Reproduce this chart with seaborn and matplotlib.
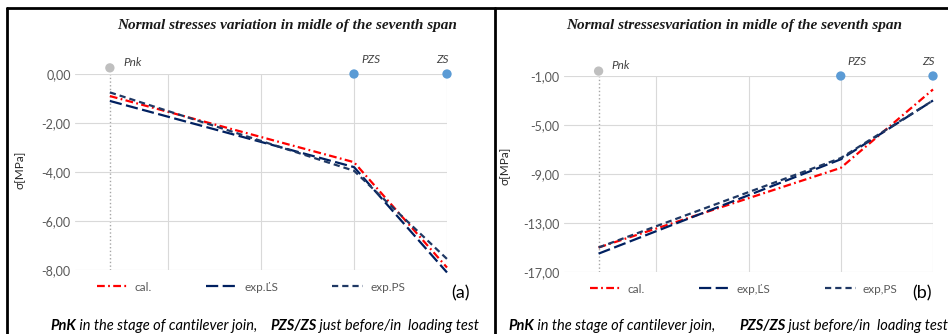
import pandas as pd
import seaborn as sns
import matplotlib.pyplot as plt
from matplotlib.lines import Line2D
from matplotlib.ticker import FuncFormatter

# stages along the span (x position on the chart axis)
stages = ['Pnk', 'PZS', 'ZS']
stage_x = [0.375, 3.0, 4.0]

# (a) values [MPa]
cal_a = [-0.9, -3.6, -7.9]
ls_a = [-1.1, -3.8, -8.1]
ps_a = [-0.75, -3.95, -7.55]
marker_a = [0.25, 0.0, 0.0]
names_a = ['cal.', 'exp.ĽS', 'exp.PS']
yticks_a = [0, -2, -4, -6, -8]

# (b) values [MPa]
cal_b = [-15.0, -8.5, -2.1]
ls_b = [-15.5, -7.8, -3.0]
ps_b = [-15.0, -7.7, -3.0]
marker_b = [-0.6, -1.0, -1.0]
names_b = ['cal.', 'exp,ĽS', 'exp,PS']
yticks_b = [-1, -5, -9, -13, -17]

title_a = 'Normal stresses variation in midle of the seventh span'
title_b = 'Normal stressesvariation in midle of the seventh span'

sns.set_theme(style='white')
plt.rcParams['font.family'] = ['Lato', 'DejaVu Sans']

colors = ['#FF0000', '#002060', '#1F3864']
dashes = [(3.5, 1.5, 0.8, 1.5), (5.5, 2.0), (2.8, 1.8)]
marker_colors = ['#BFBFBF', '#5B9BD5', '#5B9BD5']
tick_col = '#595959'

fig = plt.figure(figsize=(9.48, 3.34), dpi=100)
ax_a = fig.add_axes([75 / 948, 1 - 270 / 334, 372 / 948, 196 / 334])
ax_b = fig.add_axes([564 / 948, 1 - 272 / 334, 369 / 948, 196 / 334])


def draw_panel(ax, cal, ls, ps, marks, names, yticks, leg_x):
    df = pd.DataFrame({
        'x': stage_x * 3,
        'y': cal + ls + ps,
        'series': [n for n in names for _ in stage_x],
    })
    sns.lineplot(data=df, x='x', y='y', hue='series', style='series',
                 palette=dict(zip(names, colors)), dashes=dict(zip(names, dashes)),
                 estimator=None, sort=False, lw=1.6, ax=ax, legend=False, clip_on=False)
    ax.axvline(stage_x[0], color='#A6A6A6', ls=':', lw=1.0, zorder=0)
    sns.scatterplot(x=stage_x, y=marks, hue=stages, palette=dict(zip(stages, marker_colors)),
                    s=45, edgecolor='none', ax=ax, legend=False, clip_on=False, zorder=5)

    offsets = [(9.5, 4), (5, 10.5), (-3, 10.5)]
    aligns = ['left', 'left', 'center']
    for name, x, y, off, ha in zip(stages, stage_x, marks, offsets, aligns):
        ax.annotate(name, (x, y), xytext=off, textcoords='offset points', ha=ha, va='center',
                    fontsize=8.5, fontstyle='italic', color='#404040', annotation_clip=False)

    ax.set_xlim(0, 4)
    ax.set_ylim(min(yticks), max(yticks))
    ax.set_xticks([1, 2, 3, 4])
    ax.set_xticklabels([])
    ax.set_yticks(yticks)
    ax.yaxis.set_major_formatter(FuncFormatter(lambda v, p: f'{v:.2f}'.replace('.', ',')))
    ax.tick_params(axis='both', length=0, labelsize=9, labelcolor=tick_col, pad=3)
    ax.grid(True, color='#D9D9D9', lw=0.8)
    ax.set_axisbelow(True)
    for s in ax.spines.values():
        s.set_visible(False)
    ax.set_xlabel('')
    ax.set_ylabel('')

    handles = [Line2D([], [], color=c, lw=1.6, dashes=d) for c, d in zip(colors, dashes)]
    ax.legend(handles, names, loc='center', bbox_to_anchor=(leg_x, -0.087), ncol=3,
              frameon=False, handlelength=2.6, columnspacing=4.6, handletextpad=0.6,
              prop={'size': 8.5}, labelcolor=tick_col)


draw_panel(ax_a, cal_a, ls_a, ps_a, marker_a, names_a, yticks_a, 0.473)
draw_panel(ax_b, cal_b, ls_b, ps_b, marker_b, names_b, yticks_b, 0.487)

# titles, axis labels, panel tags
for x, t in [(287, title_a), (734, title_b)]:
    fig.text(x / 948, 1 - 25 / 334, t, ha='center', va='center', fontsize=11,
             family='Liberation Serif', weight='bold', style='italic', color='#1a1a1a')
for x, y in [(20, 170), (505, 166)]:
    fig.text(x / 948, 1 - y / 334, 'σ[MPa]', rotation=90, ha='center', va='center',
             fontsize=8.5, color='#262626', family=['Lato', 'DejaVu Sans'])
fig.text(461 / 948, 1 - 293 / 334, '(a)', ha='center', va='center', fontsize=13, color='black')
fig.text(922 / 948, 1 - 293 / 334, '(b)', ha='center', va='center', fontsize=13, color='black')

# caption under each panel, bold + italic pieces placed one after another
fig.canvas.draw()
renderer = fig.canvas.get_renderer()


def caption(x_px, parts):
    for txt, w in parts:
        t = fig.text(x_px / 948, 1 - 326 / 334, txt, ha='left', va='center', fontsize=10.5,
                     style='italic', weight=w, color='black')
        x_px = t.get_window_extent(renderer).x1


for x0, x1 in [(50, 270), (508, 739)]:
    caption(x0, [('PnK', 'bold'), (' in the stage of cantilever join,', 'normal')])
    caption(x1, [('PZS/ZS', 'bold'), (' just before/in  loading test', 'normal')])

# frame lines around the two panels
for xs, ys in [([7, 948], [8, 8]), ([7, 7], [8, 334]), ([495, 495], [8, 334])]:
    fig.add_artist(Line2D([x / 948 for x in xs], [1 - y / 334 for y in ys],
                          color='black', lw=2.0))

fig.savefig('out.png', dpi=100)
